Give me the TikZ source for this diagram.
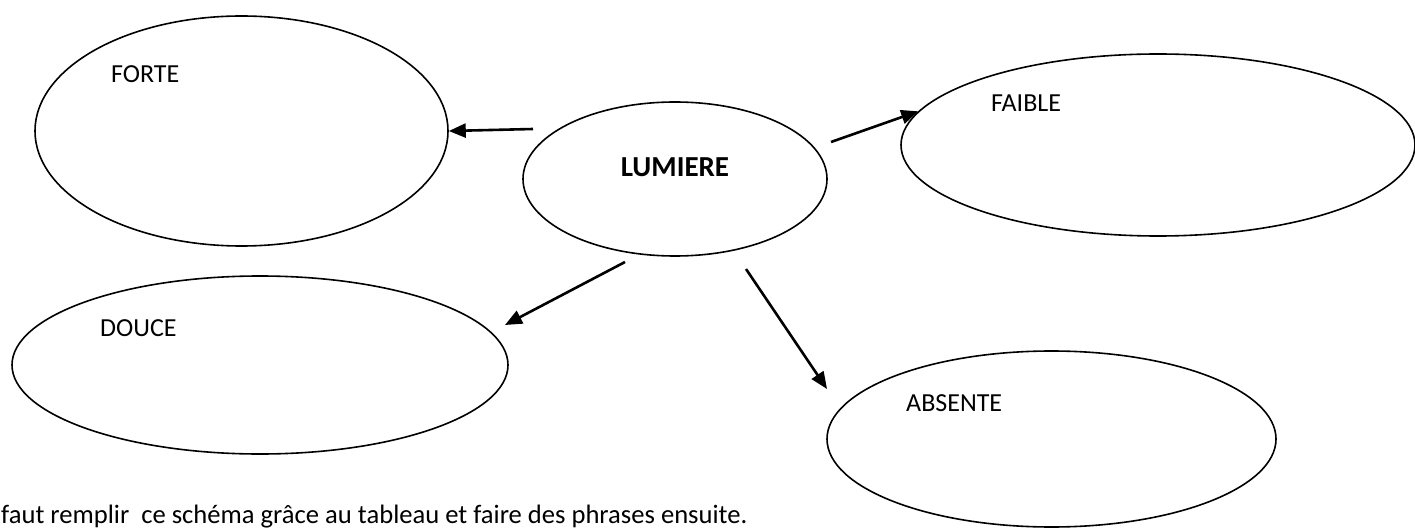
\documentclass[tikz,border=0pt]{standalone}
\usepackage{fontspec}
\setmainfont{Carlito}
\usetikzlibrary{shapes.geometric,arrows.meta}
\begin{document}
\begin{tikzpicture}[x=1pt,y=-1pt,
  bubble/.style={draw=black,line width=1.6pt,ellipse,inner sep=0pt},
  lbl/.style={inner sep=0pt,anchor=base west,font=\fontsize{26}{31}\selectfont},
  arr/.style={line width=2.6pt,-{Triangle[length=17pt,width=14pt]}}]
\useasboundingbox (0,0) rectangle (1415,529);
\fill[white] (0,0) rectangle (1415,529);
% ellipses
\node[bubble,minimum width=413pt,minimum height=230pt] (forte) at (241.5,131) {};
\node[bubble,minimum width=304pt,minimum height=154pt] (lumiere) at (675,179) {};
\node[bubble,minimum width=514pt,minimum height=182pt] (faible) at (1158,145) {};
\node[bubble,minimum width=496pt,minimum height=178pt] (douce) at (260,365) {};
\node[bubble,minimum width=449pt,minimum height=176pt] (absente) at (1051.5,439) {};
% labels
\node[lbl] (tforte) at (111,83) {FORTE};
\node[lbl] (tfaible) at (991,112) {FAIBLE};
\node[lbl] (tdouce) at (100,336) {DOUCE};
\node[lbl] (tabsente) at (906,411) {ABSENTE};
\node[inner sep=0pt,anchor=base,font=\fontsize{29}{34}\selectfont\bfseries] (tlumiere) at (675,177) {LUMIERE};
\node[lbl,font=\fontsize{26.6}{32}\selectfont] (note) at (1,523) {faut remplir\ \ ce schéma grâce au tableau et faire des phrases ensuite.};
% arrow start / end points
\coordinate (s1) at (533,129);
\coordinate (s2) at (831,142);
\coordinate (s3) at (625,262);
\coordinate (s4) at (746,269);
\coordinate (t3) at (505,325);
\coordinate (t4) at (827,389);
\draw[arr] (s1) -- (forte.east);
\draw[arr] (s2) -- (faible.172.5);
\draw[arr] (s3) -- (t3);
\draw[arr] (s4) -- (t4);
\end{tikzpicture}
\end{document}
